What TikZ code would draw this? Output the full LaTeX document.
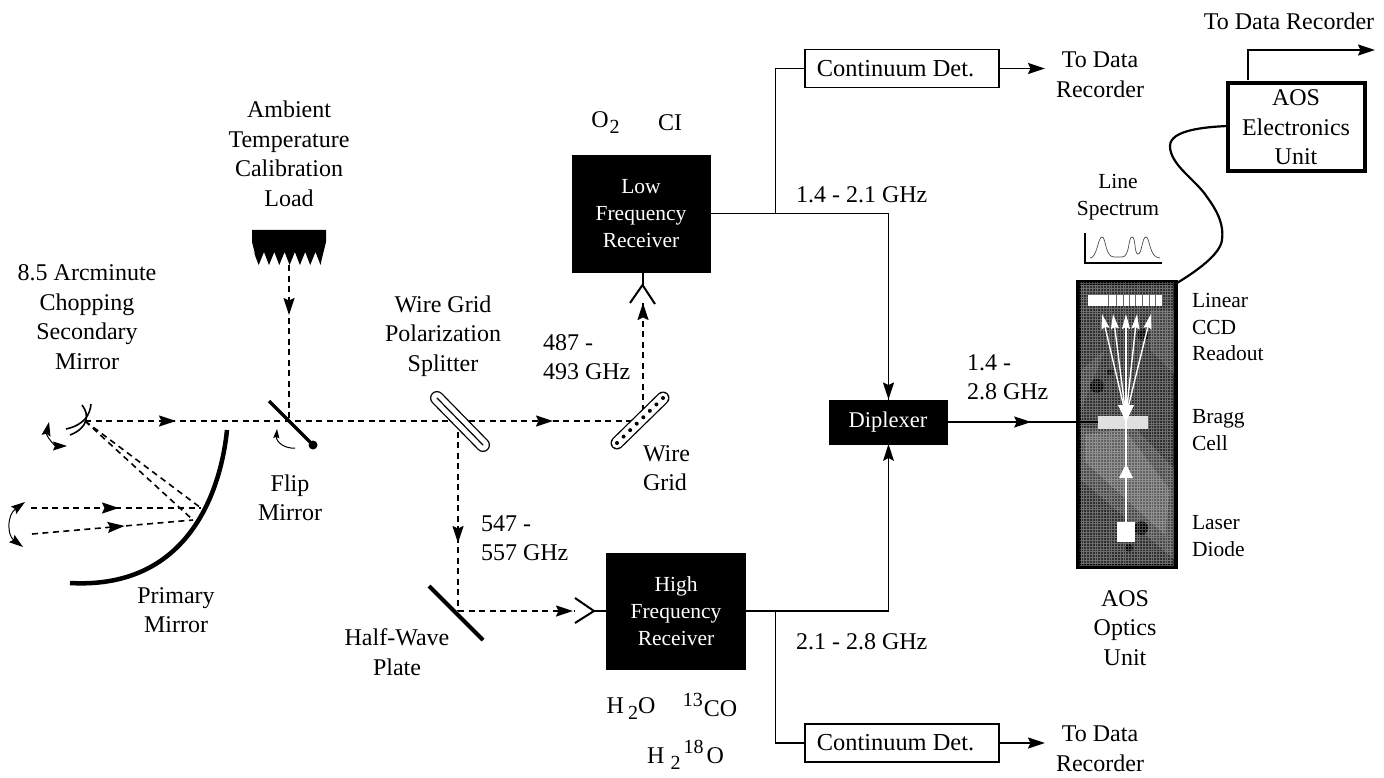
\documentclass[tikz,border=0pt]{standalone}
\usepackage{fontspec}
\setmainfont{Liberation Serif}
\usetikzlibrary{arrows.meta,decorations.markings,calc}
\newcommand{\lowtxt}[1]{\raisebox{-6pt}{\fontsize{20}{20}\selectfont #1}}
\newcommand{\uptxt}[1]{\raisebox{10pt}{\fontsize{20}{20}\selectfont #1}}
\tikzset{
  bigtip/.tip={Stealth[length=17pt,width=11pt,inset=2.5pt]},
  tipat/.style={postaction={decorate},decoration={markings,mark=at position #1 with {\arrow{bigtip}}}},
  lbl/.style={font=\fontsize{24}{29.5}\selectfont,align=center,inner sep=0pt,outer sep=0pt,text=black},
  lbll/.style={lbl,align=left,anchor=west},
  slbl/.style={lbl,font=\fontsize{21.5}{27}\selectfont},
  slbll/.style={lbll,font=\fontsize{21.5}{27}\selectfont},
  wlbl/.style={font=\fontsize{21.5}{27}\selectfont,align=center,inner sep=0pt,text=white},
  blackbox/.style={fill=black,draw=black,wlbl,minimum width=#1,anchor=center},
  contbox/.style={draw=black,line width=1.6pt,fill=white,lbl,font=\fontsize{24.4}{30}\selectfont,minimum width=194pt,minimum height=38pt},
  wire/.style={line width=1.6pt,draw=black},
  beam/.style={line width=1.6pt,draw=black,dash pattern=on 6pt off 4.5pt},
  thinarc/.style={line width=1pt,draw=black},
  mirror/.style={line width=4.5pt,draw=black},
}
\begin{document}
\begin{tikzpicture}[x=1pt,y=-1pt]
\useasboundingbox (0,0) rectangle (1384,778);
\fill[white] (0,0) rectangle (1384,778);
% free points
\coordinate (sec) at (85,421);
\coordinate (primA) at (201,508);
\coordinate (primB) at (193,520);
\coordinate (flipc) at (289,421);
\coordinate (splc) at (458,421);
\coordinate (gridb) at (643,421);
\coordinate (halfc) at (458,611);
\coordinate (skyA) at (31,508);
\coordinate (skyB) at (32,534);
\coordinate (flipT) at (269,401);
\coordinate (flipE) at (313,445);
\coordinate (jlow) at (775.5,213.5);
\coordinate (jhigh) at (775.5,611);
\coordinate (antL) at (642.5,285);
\coordinate (antH) at (594,611);
% boxes
\node[blackbox=138pt,minimum height=117pt] (lowrx) at (641,213.5) {Low\\Frequency\\Receiver};
\node[blackbox=139pt,minimum height=116pt] (highrx) at (676,611) {High\\Frequency\\Receiver};
\node[blackbox=118pt,minimum height=44pt,font=\fontsize{22.5}{27}\selectfont] (diplex) at (888,422) {Diplexer};
\node[contbox] (contA) at (902,68.5) {Continuum Det.\hspace{13pt}};
\node[contbox] (contB) at (902,743) {Continuum Det.\hspace{13pt}};
\node[draw=black,line width=4pt,lbl,minimum width=137pt,minimum height=88pt] (aoselec) at (1296,127.5) {AOS\\Electronics\\Unit};
\node[lbl] (rec1) at (1289,21) {To Data Recorder};
\node[lbl] (rec2) at (1100,75) {To Data\\Recorder};
\node[lbl] (rec3) at (1100,749) {To Data\\Recorder};
% AOS optics unit
\node[draw=black,line width=5pt,minimum width=97pt,minimum height=284pt,inner sep=0pt,fill=black!82] (aosopt) at (1126.5,424) {};
\begin{scope}
\clip (1079.5,282.5) rectangle (1173.5,565.5);
\fill[black!72] (1081,428) -- (1135,428) -- (1175,470) -- (1175,560) -- (1081,480) -- cycle;
\fill[black!62] (1085,434) -- (1125,430) -- (1170,490) -- (1165,535) -- (1085,462) -- cycle;
\fill[black!74] (1150,310) -- (1175,310) -- (1175,375) -- (1150,350) -- cycle;
\fill[black!74] (1081,370) -- (1105,350) -- (1081,410) -- cycle;
\fill[black] (1097,386) circle (7pt);
\fill[black] (1110,372) circle (3pt);
\fill[black] (1143,335) circle (6pt);
\fill[black] (1141,528) circle (7pt);
\fill[black] (1129,548) circle (4pt);
\draw[white,opacity=.3,line width=.5pt,step=2.8pt] (1076,280) grid (1178,568);
\end{scope}
\node[draw=none,fill=white,minimum width=74pt,minimum height=11pt,inner sep=0pt] (ccd) at (1125,300.5) {};
\foreach \xx in {1108,1116,1123,1129,1135,1142,1149,1155}{\draw[black!60,line width=.7pt] (\xx,295) -- (\xx,306);}
\node[fill=white!88!black,minimum width=50pt,minimum height=13pt,inner sep=0pt] (bragg) at (1123,422) {};
\node[fill=white,minimum width=18pt,minimum height=20pt,inner sep=0pt] (laser) at (1126,532) {};
\coordinate (fan) at (1126,416);
\foreach \tx in {1102,1113,1126,1137,1151}{
  \draw[white,line width=1.4pt,-{Stealth[length=15pt,width=8pt,inset=2pt]}] (fan) -- (\tx,314);
}
\draw[white,line width=1.4pt] (laser.north) -- (fan);
\fill[white] (1126,464) -- (1119,478) -- (1133,478) -- cycle;
\fill[white] (1118,405) -- (1134,405) -- (1126,422) -- cycle;
% beams
\draw[beam,tipat=91pt] (sec) -- (splc);
\draw[beam] (sec) -- (primA);
\draw[beam] (sec) -- (primB);
\draw[beam,tipat=88pt] (skyA) -- (primA);
\draw[beam,tipat=93pt] (skyB) -- (primB);
\draw[beam,tipat=50pt] (289,265) -- (flipc);
\draw[beam,tipat=122pt] (splc) -- (halfc);
\draw[beam,tipat=115pt] (halfc) -- (574,611);
\draw[beam,tipat=95pt] (splc) -- (gridb);
\draw[beam,tipat=118pt] (gridb) -- (643,303);
% primary
\draw[mirror] (227,430) .. controls (222,480) and (195,590) .. (70,583);
% secondary
\draw[line width=1.6pt] (91,404) .. controls (90,415) and (84,425) .. (66,429);
\draw[line width=1.6pt] (82,405) .. controls (90,415) and (88,428) .. (70,435);
\draw[line width=1pt,{Stealth[length=14pt,width=9pt,inset=2pt]}-{Stealth[length=14pt,width=9pt,inset=2pt]}] (49,422) .. controls (46,436) and (55,446) .. (67,446);
\draw[line width=1pt,{Stealth[length=14pt,width=9pt,inset=2pt]}-{Stealth[length=14pt,width=9pt,inset=2pt]}] (25,502) .. controls (7,515) and (7,535) .. (23,547);
% flip
\draw[mirror,line width=3.2pt] (flipT) -- (flipE);
\node[circle,fill=black,minimum size=9pt,inner sep=0pt] (flipball) at (flipE) {};
\draw[thinarc,-{Stealth[length=9pt,width=6pt,inset=1pt]}] (295,448) .. controls (285,449) and (276,442) .. (277,429);
% load
\fill[black] (252,230) -- (326,230) -- (326,242) -- (322,258)
  \foreach \i in {0,...,6}{ -- ({320.5-\i*10.3},265) -- ({315.5-\i*10.3},252) } -- (256,258) -- (252,242) -- cycle;
% splitter
\coordinate (splA) at (437,398);
\coordinate (splB) at (483,445);
\draw[line width=14pt,line cap=round,black] (splA) -- (splB);
\draw[line width=11.4pt,line cap=round,white] (splA) -- (splB);
\draw[line width=1.2pt,line cap=round,black] (splA) -- (splB);
% wire grid
\coordinate (grA) at (617,443);
\coordinate (grB) at (663,398);
\draw[line width=13pt,line cap=round,black] (grA) -- (grB);
\draw[line width=10.4pt,line cap=round,white] (grA) -- (grB);
\foreach \t in {0,...,7}{ \fill[black] ($(grA)!{\t/7}!(grB)$) circle (2pt); }
% half wave
\draw[line width=4pt] (429,586) -- (483,640);
% antennas
\draw[wire,line width=2pt] (lowrx.south -| antL) -- (antL);
\draw[wire,line width=2pt] (630,303) -- (antL) -- (655,304);
\draw[wire,line width=2pt] (highrx.west |- antH) -- (antH);
\draw[wire,line width=2pt] (575,598) -- (antH) -- (575,623);
% wires
\draw[wire] (lowrx.east) -- (jlow);
\draw[wire,tipat=299pt] (jlow) -- (888.5,213.5) -- (888.5,400.5);
\draw[wire] (jlow) |- (contA.west);
\draw[wire,-{Stealth[length=17pt,width=11pt,inset=2.5pt]}] (contA.east) -- (1045,68.5);
\draw[wire] (highrx.east) -- (888.5,611) -- (888.5,444);
\fill[black] (888.5,444) -- (883,461) -- (888.5,458) -- (894,461) -- cycle;
\draw[wire] (jhigh) |- (contB.west);
\draw[wire,-{Stealth[length=17pt,width=11pt,inset=2.5pt]}] (contB.east) -- (1045,743);
\draw[wire,tipat=84pt] (diplex.east) -- (bragg.west);
\draw[wire,-{Stealth[length=17pt,width=11pt,inset=2.5pt]}] (1248,80.5) -- (1248,50) -- (1375,50);
\draw[line width=2.2pt] (aoselec.west |- 0,126) .. controls (1205,127) and (1170,130) .. (1170,146) .. controls (1170,165) and (1196,180) .. (1207,197) .. controls (1218,212) and (1224,225) .. (1222,240) .. controls (1220,255) and (1195,272) .. (1177,283);
% spectrum
\draw[line width=1.5pt] (1085,233) -- (1085,263) -- (1162,263);
\draw[black!70,line width=.7pt] (1090,258) .. controls (1097,258) and (1098,237) .. (1102,237) .. controls (1106,237) and (1105,257) .. (1114,257) -- (1122,257) .. controls (1130,257) and (1128,237) .. (1132,237) .. controls (1136,237) and (1134,254) .. (1138,254) .. controls (1142,254) and (1142,237) .. (1146,237) .. controls (1150,237) and (1149,258) .. (1160,258);
% labels
\node[lbl] (tAmb) at (289,154) {Ambient\\Temperature\\Calibration\\Load};
\node[lbl] (tArc) at (87,317) {8.5 Arcminute\\Chopping\\Secondary\\Mirror};
\node[lbl] (tWire) at (443,336) {Wire Grid\\Polarization\\Splitter};
\node[lbll] (t487) at (543,357) {487 -\\493 GHz};
\node[lbll] (tGrid) at (643,468) {Wire\\Grid};
\node[lbl] (tFlip) at (290,498) {Flip\\Mirror};
\node[lbl] (tPrim) at (176,610) {Primary\\Mirror};
\node[lbll] (t547) at (481,538) {547 -\\557 GHz};
\node[lbl] (tHalf) at (397,652) {Half-Wave\\Plate};
\node[lbl] (tO2) at (605.5,123) {O\hspace{1pt}\lowtxt{2}};
\node[lbl] (tCI) at (670,123) {CI};
\node[lbll] (t14) at (796,195) {1.4 - 2.1 GHz};
\node[lbll] (t21) at (796,642) {2.1 - 2.8 GHz};
\node[lbll] (t28) at (967,377) {1.4 -\\2.8 GHz};
\node[lbl] (tH2O) at (631,709) {H\hspace{4pt}\lowtxt{2}O};
\node[lbl] (t13) at (710,705) {\uptxt{13}\hspace{1pt}CO};
\node[lbl] (tH18) at (685.5,755) {H\hspace{6pt}\lowtxt{2}\hspace{3pt}\uptxt{18}\hspace{3pt}O};
\node[slbl] (tLine) at (1118,197.5) {Line\\Spectrum};
\node[slbll] (tCCD) at (1192,327) {Linear\\[-0.5pt]CCD\\[-0.5pt]Readout};
\node[slbll] (tBragg) at (1192,430) {Bragg\\Cell};
\node[slbll] (tLaser) at (1192,536) {Laser\\Diode};
\node[lbl] (tOpt) at (1125,628) {AOS\\Optics\\Unit};
\end{tikzpicture}
\end{document}
